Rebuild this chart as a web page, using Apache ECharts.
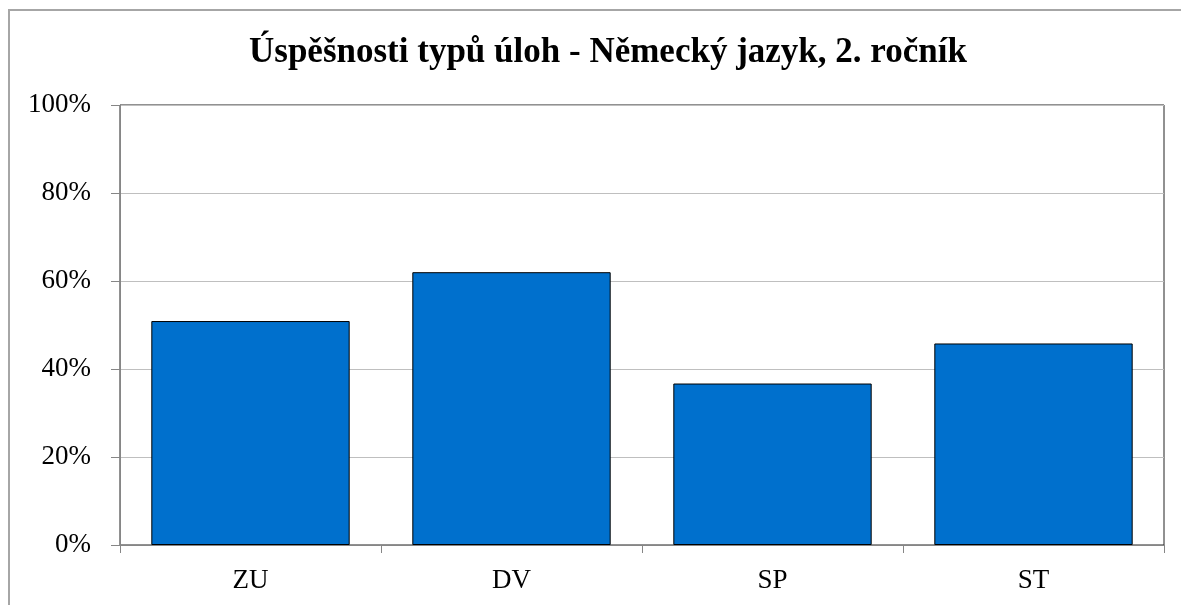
<!DOCTYPE html>
<html lang="cs">
<head>
    <meta charset="UTF-8">
    <title>Úspěšnosti typů úloh</title>
    <script src="https://cdn.jsdelivr.net/npm/echarts@6/dist/echarts.min.js"></script>
    <style>
        html, body { margin: 0; padding: 0; background: #fff; }
        #container { width: 1181px; height: 605px; }
    </style>
</head>
<body>
<div id="container"></div>
<script>
    // data
    var categories = ['ZU', 'DV', 'SP', 'ST'];
    var values = [50.9, 62.0, 36.7, 45.8];
    var titleText = 'Úspěšnosti typů úloh - Německý jazyk, 2. ročník';

    var font = '"Liberation Serif", "Times New Roman", serif';
    var chart = echarts.init(document.getElementById('container'), null, {renderer: 'canvas'});

    var option = {
        animation: false,
        backgroundColor: '#fff',
        title: {
            text: titleText,
            left: 244,
            top: 30,
            textStyle: {
                fontFamily: font,
                fontSize: 35,
                fontWeight: 'bold',
                color: '#000'
            }
        },
        graphic: [
            {   // outer chart border
                type: 'rect',
                shape: {x: 9, y: 10, width: 1200, height: 620},
                style: {fill: 'none', stroke: '#a6a6a6', lineWidth: 2}
            }
        ],
        grid: {
            left: 120,
            right: 17,
            top: 105,
            bottom: 60,
            show: true,
            borderColor: '#222',
            borderWidth: 1
        },
        xAxis: {
            type: 'category',
            data: categories,
            axisLine: {lineStyle: {color: '#868686', width: 1}},
            axisTick: {show: true, length: 8, lineStyle: {color: '#868686'}},
            axisLabel: {
                fontFamily: font,
                fontSize: 27,
                color: '#000',
                margin: 22
            }
        },
        yAxis: {
            type: 'value',
            min: 0,
            max: 100,
            interval: 20,
            axisLine: {show: true, lineStyle: {color: '#868686', width: 1}},
            axisTick: {show: true, length: 9, lineStyle: {color: '#868686'}},
            splitLine: {lineStyle: {color: '#bfbfbf', width: 1}},
            axisLabel: {
                formatter: '{value}%',
                fontFamily: font,
                fontSize: 27,
                color: '#000',
                margin: 29
            }
        },
        series: [{
            type: 'bar',
            data: values,
            barCategoryGap: '24%',
            itemStyle: {
                color: '#0070cd',
                borderColor: '#000',
                borderWidth: 1
            }
        }]
    };
    chart.setOption(option);
</script>
</body>
</html>
